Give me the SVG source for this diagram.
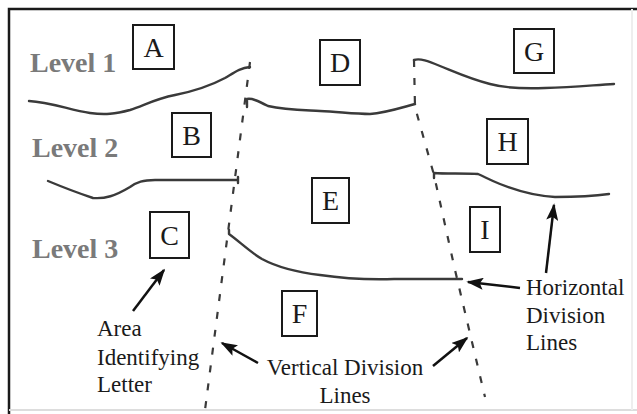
<svg xmlns="http://www.w3.org/2000/svg" width="637" height="414" viewBox="0 0 637 414">
<defs>
<style>
.frame{stroke:#1a1a1a;stroke-width:2.5;fill:none}
.box rect{fill:#fff;stroke:#1a1a1a;stroke-width:2}
.box text{font-size:28px;fill:#1a1a1a;text-anchor:middle}
.lvl{font-size:28px;font-weight:bold;fill:#7a7a7a}
.hl{fill:none;stroke:#3a3a3a;stroke-width:2.4;stroke-linejoin:round;stroke-linecap:round}
.vl{fill:none;stroke:#3a3a3a;stroke-width:2.2;stroke-dasharray:7 11}
.ann{font-size:23px;fill:#1a1a1a}
.arr{stroke:#111;stroke-width:2.5;fill:none;marker-end:url(#ah)}
</style>
<marker id="ah" viewBox="0 0 10 10" refX="9" refY="5" markerWidth="17" markerHeight="12" markerUnits="userSpaceOnUse" orient="auto" preserveAspectRatio="none">
<path d="M0,0 L10,5 L0,10 L2,5 Z" fill="#111"/>
</marker>
</defs>
<rect width="637" height="414" fill="#fff"/>
<g id="frame">
<path class="frame" d="M9,414 V9 H637"/>
<path d="M9,410 H637" stroke="#ddd" stroke-width="2" fill="none"/>
<path d="M632,9 V410" stroke="#eee" stroke-width="2" fill="none"/>
</g>
<g id="levels" font-family="'Liberation Serif','Times New Roman','DejaVu Serif',serif">
<text class="lvl" x="30" y="72">Level 1</text>
<text class="lvl" x="32" y="157">Level 2</text>
<text class="lvl" x="32" y="258">Level 3</text>
</g>
<g id="connectors">
<path class="hl" d="M29,101 C50,102 70,110 90,113 C105,115 115,114 130,110 C145,105 155,99 175,95 C195,91 210,86 225,78 C235,72 240,68 250,67"/>
<path class="hl" d="M247,107 V99 C252,98 258,101 268,106 C285,110 300,110 320,111 C340,112 355,114 370,114 C385,113 400,108 415,104"/>
<path class="hl" d="M414,60 C420,58 428,61 440,66 C455,72 470,79 490,84 C505,88 520,89 545,88 C575,87 595,85 614,84"/>
<path class="hl" d="M48,181 C60,186 75,192 93,198 C105,199 115,196 130,187 C137,182 143,180 155,180 L238,180 M238,177 V183"/>
<path class="hl" d="M434,178 V173 C445,174 465,173 478,174 C485,177 490,180 500,184 C515,190 535,196 555,197 C575,197 595,196 609,194"/>
<path class="hl" d="M229,230 V234 C240,242 250,252 262,259 C275,266 295,272 320,275 C340,278 360,280 394,279 L462,279"/>
<path class="vl" d="M250,62 L205,410"/>
<path class="vl" d="M414,60 L415,107 L434,175 L455,270 L485,397"/>
<path class="arr" d="M133,311 L164,270"/>
<path class="arr" d="M258,363 L222,343"/>
<path class="arr" d="M433,366 L467,338"/>
<path class="arr" d="M520,288 L468,282"/>
<path class="arr" d="M546,273 L554,205"/>
</g>
<g font-family="'Liberation Serif','Times New Roman','DejaVu Serif',serif">
<g id="A" class="box"><rect x="133" y="25" width="41" height="44"/><text x="153.5" y="57">A</text></g>
<g id="B" class="box"><rect x="172" y="113" width="39" height="44"/><text x="191.5" y="145">B</text></g>
<g id="C" class="box"><rect x="150" y="212" width="39" height="46"/><text x="169.5" y="245">C</text></g>
<g id="D" class="box"><rect x="320" y="40" width="40" height="45"/><text x="340" y="72">D</text></g>
<g id="E" class="box"><rect x="312" y="178" width="37" height="45"/><text x="330.5" y="210">E</text></g>
<g id="F" class="box"><rect x="282" y="291" width="35" height="45"/><text x="299.5" y="323">F</text></g>
<g id="G" class="box"><rect x="514" y="29" width="40" height="44"/><text x="534" y="61">G</text></g>
<g id="H" class="box"><rect x="487" y="119" width="41" height="45"/><text x="507.5" y="151">H</text></g>
<g id="I" class="box"><rect x="470" y="207" width="30" height="45"/><text x="485" y="239">I</text></g>
</g>
<g id="labels" font-family="'Liberation Serif','Times New Roman','DejaVu Serif',serif">
<text class="ann" x="97" y="336">Area</text>
<text class="ann" x="97" y="365">Identifying</text>
<text class="ann" x="97" y="392">Letter</text>
<text class="ann" x="345" y="375" text-anchor="middle">Vertical Division</text>
<text class="ann" x="345" y="403" text-anchor="middle">Lines</text>
<text class="ann" x="526" y="295">Horizontal</text>
<text class="ann" x="526" y="323">Division</text>
<text class="ann" x="526" y="350">Lines</text>
</g>
</svg>
